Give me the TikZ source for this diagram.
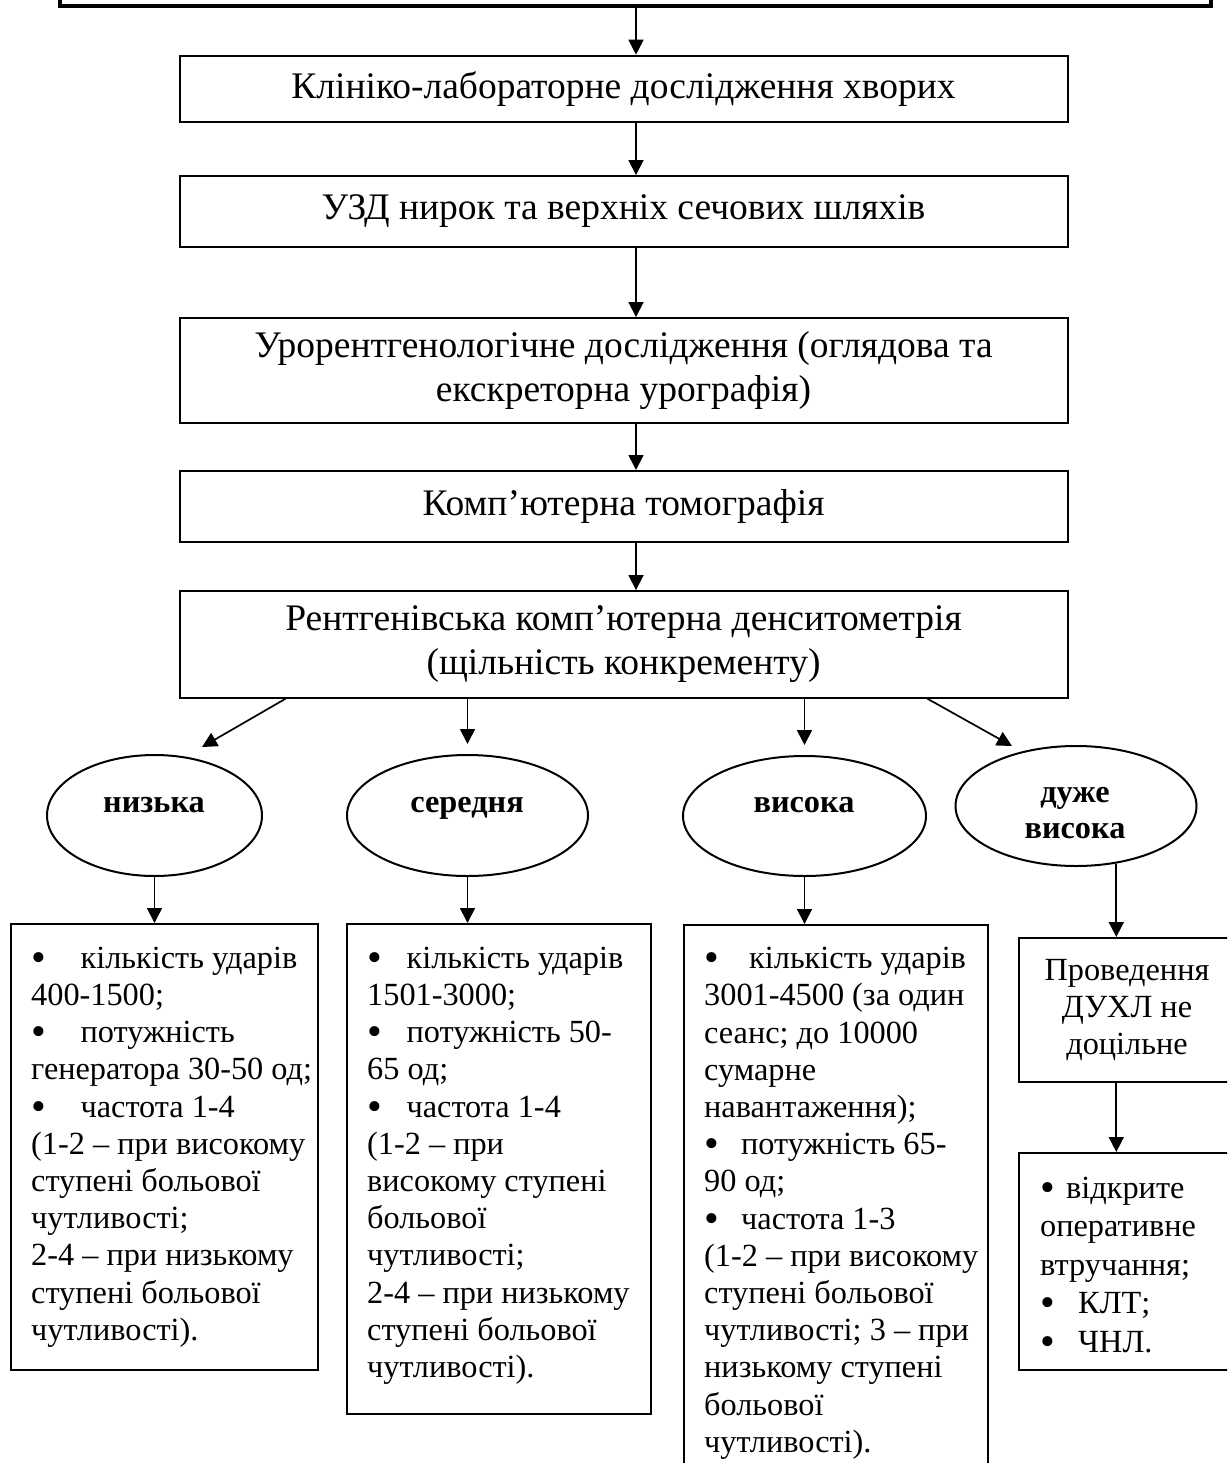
\documentclass[tikz,border=0pt]{standalone}
\usepackage{fontspec}
\setmainfont{Liberation Serif}
\usetikzlibrary{positioning, arrows.meta, shapes.geometric}

\newcommand{\bgap}[1]{\makebox[#1][l]{\raisebox{-3pt}{\scalebox{1.3}{•}}}}

\begin{document}
\begin{tikzpicture}[x=1pt, y=-1pt,
    box/.style={draw, line width=2pt, inner sep=0pt},
    stage/.style={box, minimum width=888pt, align=center, font=\fontsize{37.5}{44}\selectfont},
    oval/.style={draw, line width=2pt, ellipse, inner sep=0pt},
    ovaltext/.style={inner sep=0pt, align=center, font=\fontsize{32.3}{36}\selectfont\bfseries},
    item/.style={anchor=north west, inner sep=0pt, align=left, font=\fontsize{32.3}{37.2}\selectfont},
    arr/.style={-{Triangle[length=15pt, width=15pt]}, line width=1.7pt}]

    \useasboundingbox (0,0) rectangle (1227,1463);
    \clip (0,0) rectangle (1227,1463);

    % Main chain of examinations
    \node[box, line width=4pt, minimum width=1151pt, minimum height=100pt, anchor=south west] (top) at (58,8) {};
    \node[stage, minimum height=66pt] (clin) at (623.5,88.7) {Клініко-лабораторне дослідження хворих};
    \node[stage, minimum height=70.7pt] (uzd) at (623.5,211.4) {УЗД нирок та верхніх сечових шляхів};
    \node[stage, minimum height=104.7pt] (xray) at (623.5,370.4) {Урорентгенологічне дослідження (оглядова та\\екскреторна урографія)};
    \node[stage, minimum height=71pt] (ct) at (623.5,506.5) {Комп’ютерна томографія};
    \node[stage, minimum height=106.7pt] (dens) at (623.5,644.4) {Рентгенівська комп’ютерна денситометрія\\(щільність конкременту)};

    \coordinate (ax) at (636,0);
    \foreach \a/\b in {top/clin, clin/uzd, uzd/xray, xray/ct, ct/dens}
      \draw[arr] (\a.south -| ax) -- (\b.north -| ax);

    % Density grades
    \node[oval, minimum width=215pt, minimum height=121pt] (low) at (154.5,815.5) {};
    \node[oval, minimum width=241pt, minimum height=121pt] (mid) at (467.5,815.5) {};
    \node[oval, minimum width=243pt, minimum height=120pt] (high) at (804.5,816) {};
    \node[oval, minimum width=241pt, minimum height=120pt] (vhigh) at (1076,806) {};

    \node[ovaltext, anchor=base] (lowtxt) at (154,812) {низька};
    \node[ovaltext, anchor=base] (midtxt) at (467,812) {середня};
    \node[ovaltext, anchor=base] (hightxt) at (804,812) {висока};
    \node[ovaltext, anchor=north] (vhightxt) at (1075,776.8) {\strut дуже\\висока};

    \coordinate (lowin) at (202,747);
    \coordinate (vhighin) at (1012,746);
    \draw[arr] ([xshift=107pt]dens.south west) -- (lowin);
    \draw[arr] (dens.south -| mid.north) -- ([yshift=10pt]mid.north);
    \draw[arr] (dens.south -| high.north) -- ([yshift=10pt]high.north);
    \draw[arr] ([xshift=-141pt]dens.south east) -- (vhighin);

    % Treatment parameters
    \node[box, minimum width=307pt, minimum height=446pt] (lowbox) at (164.5,1147) {};
    \node[box, minimum width=304pt, minimum height=490pt] (midbox) at (499,1169) {};
    \node[box, minimum width=304pt, minimum height=575pt] (highbox) at (836,1212.5) {};
    \node[box, minimum width=216pt, minimum height=144pt, align=center,
          font=\fontsize{32.3}{37.2}\selectfont] (nobox) at (1127,1010) {Проведення\\ДУХЛ не\\доцільне};
    \node[box, minimum width=216pt, minimum height=217pt] (altbox) at (1127,1261.5) {};

    \node[item] (lowlist) at (31,942) {\strut\bgap{49.4pt}кількість ударів\\
      400-1500;\\
      \bgap{49.4pt}потужність\\
      генератора 30-50 од;\\
      \bgap{49.4pt}частота 1-4\\
      (1-2 – при високому\\
      ступені больової\\
      чутливості;\\
      2-4 – при низькому\\
      ступені больової\\
      чутливості).};
    \node[item] (midlist) at (367,942) {\strut\bgap{39.4pt}кількість ударів\\
      1501-3000;\\
      \bgap{39.4pt}потужність 50-\\
      65 од;\\
      \bgap{39.4pt}частота 1-4\\
      (1-2 – при\\
      високому ступені\\
      больової\\
      чутливості;\\
      2-4 – при низькому\\
      ступені больової\\
      чутливості).};
    \node[item] (highlist) at (704,942.4) {\strut\bgap{45pt}кількість ударів\\
      3001-4500 (за один\\
      сеанс; до 10000\\
      сумарне\\
      навантаження);\\
      \bgap{37pt}потужність 65-\\
      90 од;\\
      \bgap{37pt}частота 1-3\\
      (1-2 – при високому\\
      ступені больової\\
      чутливості; 3 – при\\
      низькому ступені\\
      больової\\
      чутливості).};
    \node[item, font=\fontsize{32.3}{38.5}\selectfont] (altlist) at (1040,1171) {\strut\bgap{26pt}відкрите\\
      оперативне\\
      втручання;\\
      \bgap{38pt}КЛТ;\\
      \bgap{38pt}ЧНЛ.};

    \draw[arr] (low.south) -- (low.south |- lowbox.north);
    \draw[arr] (mid.south) -- (mid.south |- midbox.north);
    \draw[arr] (high.south) -- (high.south |- highbox.north);
    \draw[arr] (vhigh.-55) -- (vhigh.-55 |- nobox.north);
    \draw[arr] (vhigh.-55 |- nobox.south) -- (vhigh.-55 |- altbox.north);

\end{tikzpicture}
\end{document}
